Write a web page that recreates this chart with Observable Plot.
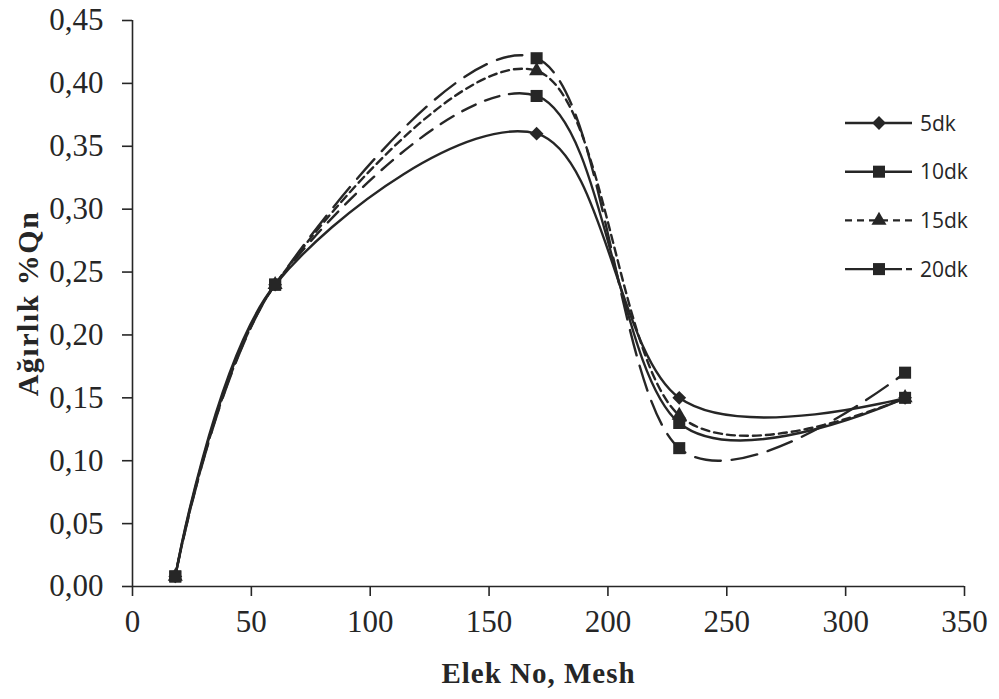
<!DOCTYPE html>
<html>
<head>
<meta charset="utf-8">
<script src="https://cdn.jsdelivr.net/npm/d3@7"></script>
<script src="https://cdn.jsdelivr.net/npm/@observablehq/plot@0.6"></script>
<style>
  html, body { margin: 0; padding: 0; background: #fff; }
  #wrap { position: relative; width: 999px; height: 699px; }
  #legend { position: absolute; left: 0; top: 0; }
</style>
</head>
<body>
<div id="wrap"><div id="chart"></div><svg id="legend" width="999" height="699"></svg></div>
<script>
// Data
const mesh = [18, 60, 170, 230, 325];
const seriesNames = ["5dk", "10dk", "15dk", "20dk"];
const s5  = [0.008, 0.24, 0.36, 0.15, 0.15];
const s10 = [0.008, 0.24, 0.39, 0.13, 0.15];
const s15 = [0.008, 0.24, 0.41, 0.136, 0.15];
const s20 = [0.008, 0.24, 0.42, 0.11, 0.17];
const xTicks = [0, 50, 100, 150, 200, 250, 300, 350];
const yTicks = [0, 0.05, 0.10, 0.15, 0.20, 0.25, 0.30, 0.35, 0.40, 0.45];
const xTitle = "Elek No, Mesh";
const yTitle = "Ağırlık %Qn";

// Styles
const ink = "#262626";
const styles = {
  "5dk":  {symbol: "diamond2", r: 6.2, dash: null, legDash: null},
  "10dk": {symbol: "square", r: 6.8, dash: null, legDash: null},
  "15dk": {symbol: "triangle", r: 5.6, dash: "8,5", legDash: "7,5"},
  "20dk": {symbol: "square", r: 6.8, dash: "26,11", legDash: "57,4"}
};

const allValues = [s5, s10, s15, s20];
const rows = [];
seriesNames.forEach((name, i) => {
  mesh.forEach((m, j) => rows.push({series: name, mesh: m, value: allValues[i][j]}));
});

const fmt = d => d.toFixed(2).replace(".", ",");
const serif = "'Liberation Serif', 'Times New Roman', serif";

const marks = [
  Plot.ruleX([0], {stroke: ink, strokeWidth: 1.6}),
  Plot.ruleY([0], {stroke: ink, strokeWidth: 1.6}),
  Plot.axisX(xTicks, {tickSize: 10, tickPadding: 13, stroke: ink, strokeWidth: 1.6, fill: ink, fontSize: 31, label: null}),
  Plot.axisY(yTicks, {tickSize: 10, tickPadding: 19, tickFormat: fmt, stroke: ink, strokeWidth: 1.6, fill: ink, fontSize: 31, label: null}),
  Plot.text([xTitle], {frameAnchor: "bottom", dx: -10, dy: 96, fontWeight: "bold", fontSize: 29, fill: ink, text: d => d}),
  Plot.text([yTitle], {frameAnchor: "left", dx: -104, rotate: -90, textAnchor: "middle", lineAnchor: "middle",
    fontWeight: "bold", fontSize: 30, fill: ink, text: d => d})
];

seriesNames.forEach(name => {
  const st = styles[name];
  const data = rows.filter(r => r.series === name);
  marks.push(Plot.line(data, {x: "mesh", y: "value", curve: "cardinal", tension: 0,
    stroke: ink, strokeWidth: 2.4, strokeDasharray: st.dash}));
});
seriesNames.forEach(name => {
  const st = styles[name];
  const data = rows.filter(r => r.series === name);
  marks.push(Plot.dot(data, {x: "mesh", y: "value", symbol: st.symbol, r: st.r, fill: ink, stroke: "none"}));
});

const chart = Plot.plot({
  width: 999,
  height: 699,
  marginLeft: 132,
  marginRight: 35,
  marginTop: 20,
  marginBottom: 113,
  style: {fontFamily: serif, background: "#fff", color: ink, overflow: "visible"},
  x: {domain: [0, 350]},
  y: {domain: [0, 0.45]},
  marks
});
document.getElementById("chart").appendChild(chart);

// title letter spacing
d3.select(chart).selectAll("text").filter(function () { return this.textContent === xTitle; })
  .attr("letter-spacing", "1px");
d3.select(chart).selectAll("text").filter(function () { return this.textContent === yTitle; })
  .attr("letter-spacing", "1.5px");

// 10dk: dashed between 60 and 170 mesh, solid elsewhere (as in the reference)
(function () {
  const groups = chart.querySelectorAll("g[aria-label='line']");
  const g = groups[1];
  if (!g) return;
  const path = g.querySelector("path");
  if (!path) return;
  const xs = chart.scale("x");
  const L = path.getTotalLength();
  const lenAt = px => {
    let lo = 0, hi = L;
    for (let k = 0; k < 40; k++) {
      const mid = (lo + hi) / 2;
      if (path.getPointAtLength(mid).x < px) lo = mid; else hi = mid;
    }
    return lo;
  };
  const L0 = lenAt(xs.apply(mesh[1]) + 4);
  const L1 = lenAt(xs.apply(mesh[2]) - 6);
  const arr = [L0, 0];
  let acc = L0;
  while (acc + 25 < L1) { arr.push(15, 10); acc += 25; }
  arr.push(L - acc + 10, 0);
  path.setAttribute("stroke-dasharray", arr.map(v => v.toFixed(2)).join(","));
})();

// Legend
const leg = d3.select("#legend");
const symGen = {
  "diamond2": d3.symbolDiamond2, "square": d3.symbolSquare, "triangle": d3.symbolTriangle
};
seriesNames.forEach((name, i) => {
  const st = styles[name];
  const y = 123 + i * 48.7;
  const g = leg.append("g").attr("transform", `translate(0,${y})`);
  g.append("line").attr("x1", 845).attr("x2", 912).attr("y1", 0).attr("y2", 0)
    .attr("stroke", ink).attr("stroke-width", 2.4)
    .attr("stroke-dasharray", st.legDash);
  g.append("path").attr("transform", "translate(879,0)")
    .attr("d", d3.symbol(symGen[st.symbol], Math.PI * st.r * st.r)())
    .attr("fill", ink);
  g.append("text").attr("x", 920).attr("y", 0).attr("dy", "0.36em")
    .attr("font-family", "'Open Sans', 'Noto Sans', sans-serif").attr("font-size", 21)
    .attr("fill", ink).text(name);
});
</script>
</body>
</html>
